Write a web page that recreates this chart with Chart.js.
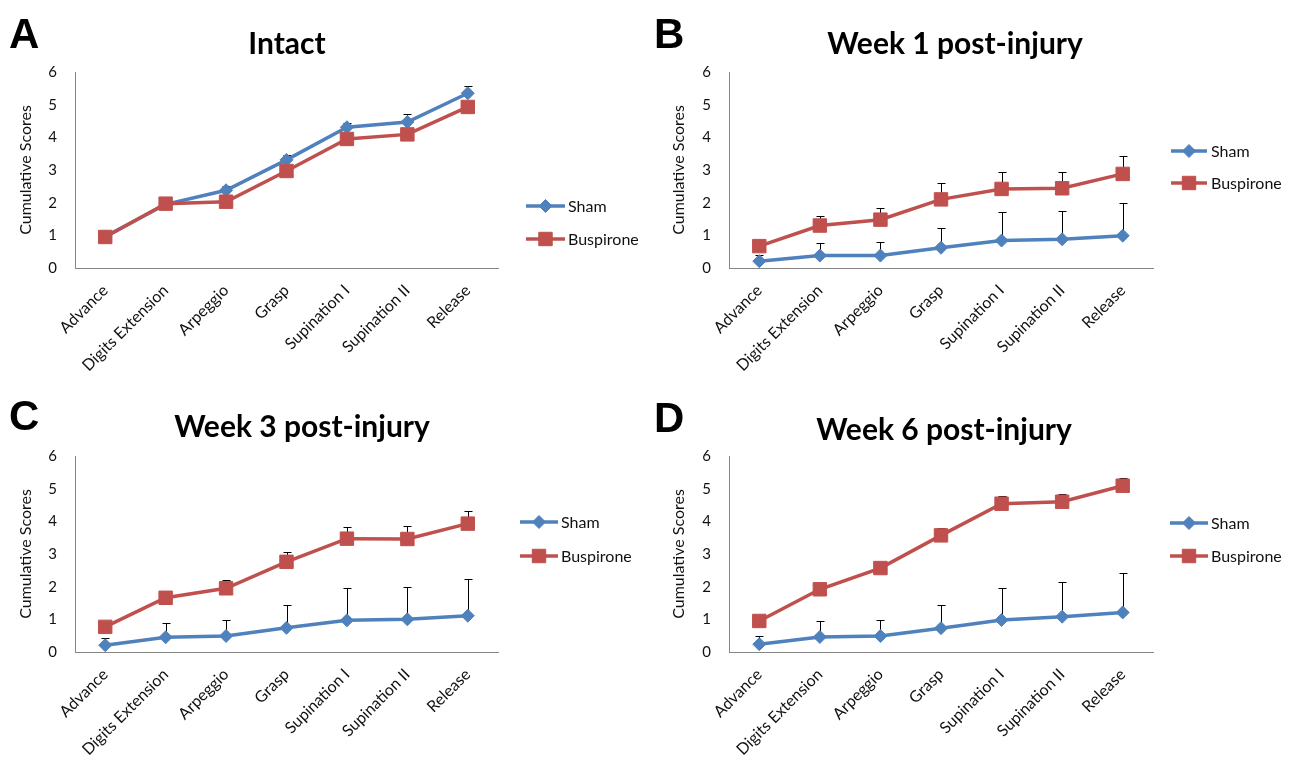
<!DOCTYPE html>
<html>
<head>
<meta charset="utf-8">
<title>Cumulative Scores</title>
<script src="https://cdn.jsdelivr.net/npm/chart.js@4.4.0/dist/chart.umd.min.js"></script>
<style>
  body { margin: 0; background: #fff; width: 1290px; height: 759px; position: relative; overflow: hidden; font-family: Lato, 'Open Sans', sans-serif; }
  .panel { position: absolute; width: 645px; }
  .panel canvas { position: absolute; left: 0; top: 0; }
  .letter { position: absolute; font-family: 'Liberation Sans', Arial, sans-serif; font-weight: bold; font-size: 42px; line-height: 1; color: #000; }
  .title { position: absolute; font-weight: bold; font-size: 30px; line-height: 1; color: #000; transform: translate(-50%, -50%); white-space: nowrap; }
</style>
</head>
<body>
<div class="panel" style="left:0;top:0;height:384px">
  <canvas id="chartA" width="645" height="384"></canvas>
  <div class="letter" style="left:9px;top:13px">A</div>
  <div class="title" style="left:287px;top:42px">Intact</div>
</div>
<div class="panel" style="left:645px;top:0;height:384px">
  <canvas id="chartB" width="645" height="384"></canvas>
  <div class="letter" style="left:9px;top:13px">B</div>
  <div class="title" style="left:310px;top:42px">Week 1 post-injury</div>
</div>
<div class="panel" style="left:0;top:384px;height:375px">
  <canvas id="chartC" width="645" height="375"></canvas>
  <div class="letter" style="left:9px;top:11px">C</div>
  <div class="title" style="left:302px;top:41px">Week 3 post-injury</div>
</div>
<div class="panel" style="left:645px;top:384px;height:375px">
  <canvas id="chartD" width="645" height="375"></canvas>
  <div class="letter" style="left:9px;top:13px">D</div>
  <div class="title" style="left:299px;top:44px">Week 6 post-injury</div>
</div>

<script>
const categories = ['Advance', 'Digits Extension', 'Arpeggio', 'Grasp', 'Supination I', 'Supination II', 'Release'];
const yMin = 0;
const yMax = 6;
const yStep = 1;

// Intact
const shamIntact = [0.96, 1.95, 2.38, 3.31, 4.31, 4.47, 5.35];
const shamIntactErr = [0.05, 0.05, 0.14, 0.16, 0.14, 0.25, 0.21];
const buspIntact = [0.95, 1.97, 2.03, 2.97, 3.95, 4.09, 4.93];
const buspIntactErr = [0.05, 0.05, 0.08, 0.1, 0.1, 0.1, 0.12];

// Week 1
const shamWeek1 = [0.21, 0.38, 0.38, 0.62, 0.84, 0.88, 0.99];
const shamWeek1Err = [0.2, 0.39, 0.42, 0.6, 0.87, 0.86, 1.0];
const buspWeek1 = [0.67, 1.3, 1.48, 2.1, 2.42, 2.44, 2.88];
const buspWeek1Err = [0.05, 0.29, 0.36, 0.5, 0.52, 0.5, 0.55];

// Week 3
const shamWeek3 = [0.21, 0.45, 0.49, 0.74, 0.97, 1.0, 1.11];
const shamWeek3Err = [0.22, 0.44, 0.49, 0.69, 0.98, 0.99, 1.14];
const buspWeek3 = [0.77, 1.66, 1.95, 2.76, 3.47, 3.46, 3.93];
const buspWeek3Err = [0.05, 0.08, 0.24, 0.29, 0.35, 0.39, 0.38];

// Week 6
const shamWeek6 = [0.24, 0.46, 0.49, 0.73, 0.98, 1.08, 1.21];
const shamWeek6Err = [0.24, 0.49, 0.49, 0.71, 0.99, 1.07, 1.21];
const buspWeek6 = [0.95, 1.92, 2.57, 3.57, 4.54, 4.6, 5.09];
const buspWeek6Err = [0.05, 0.08, 0.19, 0.22, 0.23, 0.23, 0.23];

const SHAM_COLOR = '#4F81BD';
const BUSP_COLOR = '#C0504D';
const TEXT_COLOR = '#111';
const AXIS_COLOR = '#868686';

// upper error bars, drawn under the lines
const errorBars = {
    id: 'errorBars',
    beforeDatasetsDraw(chart) {
        const ctx = chart.ctx;
        const yScale = chart.scales.y;
        ctx.save();
        ctx.strokeStyle = '#000';
        ctx.lineWidth = 1;
        chart.data.datasets.forEach((ds, di) => {
            const meta = chart.getDatasetMeta(di);
            meta.data.forEach((pt, i) => {
                const top = Math.round(yScale.getPixelForValue(ds.data[i] + ds.errors[i])) + 0.5;
                const x = Math.round(pt.x) + 0.5;
                ctx.beginPath();
                ctx.moveTo(x, pt.y);
                ctx.lineTo(x, top);
                ctx.moveTo(x - 4, top);
                ctx.lineTo(x + 4, top);
                ctx.stroke();
            });
        });
        ctx.restore();
    }
};

// legend sitting to the right of the plot, like the original
const sideLegend = {
    id: 'sideLegend',
    afterDraw(chart, args, opts) {
        const ctx = chart.ctx;
        ctx.save();
        ctx.font = '16px Lato, "Open Sans", sans-serif';
        ctx.textBaseline = 'middle';
        ctx.textAlign = 'left';
        // legend order: Sham then Buspirone
        const order = [1, 0];
        order.forEach((di, row) => {
            const ds = chart.data.datasets[di];
            const y = opts.ys[row];
            ctx.strokeStyle = ds.borderColor;
            ctx.lineWidth = 3.5;
            ctx.beginPath();
            ctx.moveTo(opts.x0, y);
            ctx.lineTo(opts.x1, y);
            ctx.stroke();
            ctx.fillStyle = ds.pointBackgroundColor;
            ctx.strokeStyle = ds.pointBorderColor;
            ctx.lineWidth = 1;
            Chart.helpers.drawPoint(ctx, {
                pointStyle: ds.pointStyle,
                radius: ds.pointRadius,
                rotation: 0,
                borderWidth: 1
            }, (opts.x0 + opts.x1) / 2, y);
            ctx.fillStyle = TEXT_COLOR;
            ctx.fillText(ds.label, opts.tx, y + 1);
        });
        ctx.restore();
    }
};

function makePanel(id, sham, shamErr, busp, buspErr, layout) {
    new Chart(document.getElementById(id).getContext('2d'), {
        type: 'line',
        data: {
            labels: categories,
            datasets: [
                {
                    label: 'Buspirone',
                    data: busp,
                    errors: buspErr,
                    order: 0,
                    borderColor: BUSP_COLOR,
                    borderWidth: 3.5,
                    pointStyle: 'rect',
                    pointRadius: 9.5,
                    pointBackgroundColor: BUSP_COLOR,
                    pointBorderColor: BUSP_COLOR,
                    pointBorderWidth: 1,
                    tension: 0,
                    fill: false
                },
                {
                    label: 'Sham',
                    data: sham,
                    errors: shamErr,
                    order: 1,
                    borderColor: SHAM_COLOR,
                    borderWidth: 3.5,
                    pointStyle: 'rectRot',
                    pointRadius: 6.5,
                    pointBackgroundColor: SHAM_COLOR,
                    pointBorderColor: SHAM_COLOR,
                    pointBorderWidth: 1,
                    tension: 0,
                    fill: false
                }
            ]
        },
        options: {
            responsive: false,
            animation: false,
            events: [],
            layout: {
                padding: { left: 0, top: layout.top, right: layout.right, bottom: 0 }
            },
            plugins: {
                legend: { display: false },
                tooltip: { enabled: false },
                sideLegend: layout.legend
            },
            scales: {
                x: {
                    type: 'category',
                    offset: true,
                    grid: { display: false, drawTicks: false },
                    border: { display: true, color: AXIS_COLOR, width: 1 },
                    ticks: {
                        autoSkip: false,
                        maxRotation: 45,
                        minRotation: 45,
                        padding: 13,
                        color: TEXT_COLOR,
                        font: { family: 'Lato', size: 16 }
                    },
                    afterFit: (scale) => { scale.height = layout.xHeight; }
                },
                y: {
                    min: yMin,
                    max: yMax,
                    grid: { display: false, drawTicks: false },
                    border: { display: true, color: AXIS_COLOR, width: 1 },
                    ticks: {
                        stepSize: yStep,
                        padding: 18,
                        color: TEXT_COLOR,
                        font: { family: 'Lato', size: 15 }
                    },
                    title: {
                        display: true,
                        text: 'Cumulative Scores',
                        color: TEXT_COLOR,
                        font: { family: 'Lato', size: 16 },
                        padding: { top: layout.titlePad, bottom: 0 }
                    },
                    afterFit: (scale) => { scale.width = layout.yWidth; }
                }
            }
        },
        plugins: [errorBars, sideLegend]
    });
}

makePanel('chartA', shamIntact, shamIntactErr, buspIntact, buspIntactErr, {
    top: 72, right: 147, xHeight: 116, yWidth: 75, titlePad: 16,
    legend: { x0: 526, x1: 565, tx: 568, ys: [206, 239] }
});
makePanel('chartB', shamWeek1, shamWeek1Err, buspWeek1, buspWeek1Err, {
    top: 72, right: 137, xHeight: 116, yWidth: 84, titlePad: 24,
    legend: { x0: 526, x1: 562, tx: 566, ys: [151, 183] }
});
makePanel('chartC', shamWeek3, shamWeek3Err, buspWeek3, buspWeek3Err, {
    top: 72, right: 147, xHeight: 107, yWidth: 75, titlePad: 16,
    legend: { x0: 520, x1: 558, tx: 561, ys: [138, 172] }
});
makePanel('chartD', shamWeek6, shamWeek6Err, buspWeek6, buspWeek6Err, {
    top: 72, right: 137, xHeight: 107, yWidth: 84, titlePad: 24,
    legend: { x0: 525, x1: 563, tx: 566, ys: [139, 172] }
});
</script>
</body>
</html>
